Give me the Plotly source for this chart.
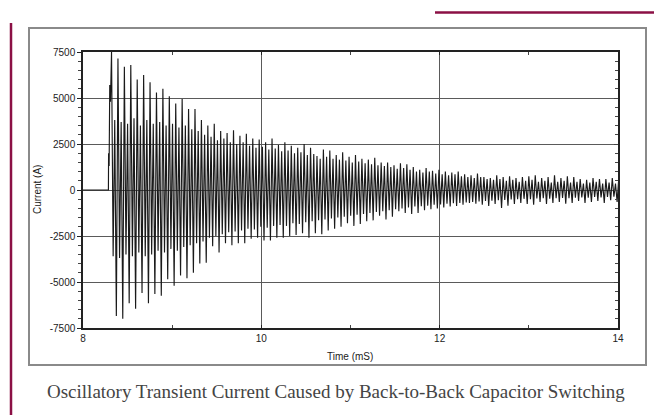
import plotly.graph_objects as go

# ---------------- data ----------------
# switching instant: flat zero, then the first steps of the transient
lead_times_ms = [8.00, 8.285, 8.287, 8.293, 8.300, 8.308]
lead_current_a = [0, 0, 2000, 1300, 5700, 4800]

# oscillation: one entry per displayed cycle (tall +, short -, short +, tall -)
cycle_start_ms = 8.32
cycle_len_ms = 0.072

pos_tall = [7500, 7150, 6700, 6800, 6000, 6250, 5850, 5300, 5500, 5100,
            4700, 4950, 4400, 4400, 3800, 3500, 3600, 3200, 3100, 3250,
            2950, 3050, 2800, 2750, 2600, 2800, 2450, 2600, 2400, 2300,
            2500, 2300, 1850, 2200, 2150, 1900, 2050, 1800, 1900, 1700,
            1650, 1750, 1500, 1500, 1350, 1450, 1400, 1250, 1100, 1200,
            1050, 1100, 1000, 950, 1000, 850, 800, 900, 700, 650,
            800, 700, 750, 650, 700, 750, 800, 650, 700, 800,
            650, 750, 700, 600, 550, 650, 600, 600, 650, 600]

neg_short = [-3600, -3700, -3500, -3600, -3400, -3600, -3500, -3300, -3400, -3200,
             -3300, -3100, -3000, -2900, -2800, -2600, -2500, -2400, -2300, -2250,
             -2200, -2100, -2150, -2000, -2050, -1950, -1900, -1950, -1800, -1850,
             -1750, -1700, -1650, -1600, -1550, -1500, -1450, -1400, -1350, -1300,
             -1250, -1200, -1150, -1100, -1050, -1000, -950, -900, -880, -850,
             -800, -780, -750, -720, -700, -680, -650, -620, -600, -580,
             -560, -540, -520, -500, -480, -500, -460, -450, -470, -440,
             -430, -450, -420, -400, -420, -380, -400, -380, -360, -380]

pos_short = [3800, 3700, 3600, 3900, 3500, 3800, 3600, 3700, 3500, 3600,
             3400, 3500, 3300, 3200, 3000, 2900, 2700, 2800, 2600, 2500,
             2600, 2400, 2300, 2350, 2200, 2250, 2100, 2150, 2000, 2050,
             1900, 1950, 1700, 1800, 1700, 1650, 1600, 1500, 1550, 1450,
             1400, 1350, 1300, 1250, 1150, 1200, 1100, 1000, 950, 1000,
             900, 850, 800, 850, 750, 700, 650, 700, 600, 550,
             600, 500, 550, 450, 500, 550, 450, 500, 400, 450,
             500, 400, 450, 350, 400, 450, 350, 400, 350, 400]

neg_tall = [-6850, -7000, -6150, -6450, -5600, -6150, -5650, -5750, -4850, -5200,
            -4650, -4800, -4500, -4000, -3950, -3050, -3400, -2900, -3000, -2900,
            -2900, -2650, -2600, -2750, -2750, -2600, -2600, -2500, -2450, -2350,
            -2600, -2350, -2400, -2200, -2100, -2000, -1800, -1950, -1850, -1700,
            -1650, -1400, -1600, -1450, -1150, -1250, -1300, -1250, -1100, -1050,
            -1000, -950, -900, -870, -800, -700, -750, -800, -870, -760,
            -980, -850, -760, -700, -760, -800, -650, -760, -700, -650,
            -750, -700, -600, -700, -650, -600, -700, -550, -650, -600]

y_tick_vals = [-7500, -5000, -2500, 0, 2500, 5000, 7500]
y_tick_text = ["-7500", "-5000", "-2500", "0", "2500", "5000", "7500"]
x_tick_vals = [8, 10, 12, 14]
x_tick_text = ["8", "10", "12", "14"]

caption = "Oscillatory Transient Current Caused by Back-to-Back Capacitor Switching"

# ---------------- build the trace ----------------
times = list(lead_times_ms)
current = list(lead_current_a)
for k in range(len(pos_tall)):
    t0 = cycle_start_ms + k * cycle_len_ms
    quarter = cycle_len_ms / 4
    for j, v in enumerate([pos_tall[k], neg_short[k], pos_short[k], neg_tall[k]]):
        times.append(t0 + j * quarter)
        current.append(v)

fig = go.Figure()
fig.add_trace(go.Scatter(x=times, y=current, mode="lines",
                         line=dict(color="#1a1a1a", width=1.15, simplify=False),
                         hoverinfo="skip", showlegend=False))
# invisible trace for right-hand y axis ticks
fig.add_trace(go.Scatter(x=[8], y=[0], yaxis="y2", mode="markers",
                         marker=dict(opacity=0), hoverinfo="skip", showlegend=False))

W, H = 654, 415
L, R, T, B = 83, 36, 52, 87
pw, ph = W - L - R, H - T - B


def px(x):
    return (x - L) / pw


def py(y):
    return (H - B - y) / ph


tick_font = dict(family="Liberation Sans, Arial, sans-serif", size=10, color="#222")

fig.update_layout(
    width=W, height=H, autosize=False,
    margin=dict(l=L, r=R, t=T, b=B),
    paper_bgcolor="white", plot_bgcolor="white",
    xaxis=dict(range=[8, 14], tickvals=x_tick_vals, ticktext=x_tick_text,
               ticks="inside", ticklen=3, tickcolor="#222",
               showgrid=True, gridcolor="#5a5a5a", gridwidth=1.2,
               zeroline=False, showline=True, linecolor="#222", linewidth=1.5,
               mirror="ticks", tickfont=tick_font,
               minor=dict(dtick=1, ticks="inside", ticklen=3, tickcolor="#444", showgrid=False)),
    yaxis=dict(range=[-7500, 7500], tickvals=y_tick_vals, ticktext=y_tick_text,
               ticks="outside", ticklen=4, tickcolor="#222",
               showgrid=True, gridcolor="#5a5a5a", gridwidth=1.2,
               zeroline=False, showline=True, linecolor="#222", linewidth=1.5,
               mirror=True, tickfont=tick_font,
               minor=dict(dtick=500, ticks="outside", ticklen=3, tickcolor="#444", showgrid=False)),
    yaxis2=dict(range=[-7500, 7500], overlaying="y", side="right",
                showticklabels=False, showgrid=False, zeroline=False,
                ticks="inside", ticklen=4, tickcolor="#444",
                tickvals=y_tick_vals,
                minor=dict(dtick=500, ticks="inside", ticklen=3, tickcolor="#444")),
    shapes=[
        # grey frame around the chart panel
        dict(type="rect", xref="paper", yref="paper",
             x0=px(29), x1=px(646), y0=py(365), y1=py(28),
             line=dict(color="#8a8a8a", width=2), layer="below"),
        # maroon page rules
        dict(type="line", xref="paper", yref="paper",
             x0=px(11), x1=px(11), y0=py(415), y1=py(23),
             line=dict(color="#8b1045", width=2.5)),
        dict(type="line", xref="paper", yref="paper",
             x0=px(435), x1=px(654), y0=py(12.5), y1=py(12.5),
             line=dict(color="#8b1045", width=2.5)),
    ],
    annotations=[
        dict(text="Time (mS)", xref="paper", yref="paper", x=px(350), y=py(356),
             showarrow=False, xanchor="center", yanchor="middle",
             font=dict(family="Liberation Sans, Arial, sans-serif", size=10, color="#222")),
        dict(text="Current (A)", xref="paper", yref="paper", x=px(37), y=py(190),
             showarrow=False, xanchor="center", yanchor="middle", textangle=-90,
             font=dict(family="Liberation Sans, Arial, sans-serif", size=10, color="#222")),
        dict(text=caption, xref="paper", yref="paper", x=px(336), y=py(391),
             showarrow=False, xanchor="center", yanchor="middle",
             font=dict(family="Liberation Serif, Times New Roman, serif", size=19, color="#444")),
    ],
)

fig.write_html("out.html")
